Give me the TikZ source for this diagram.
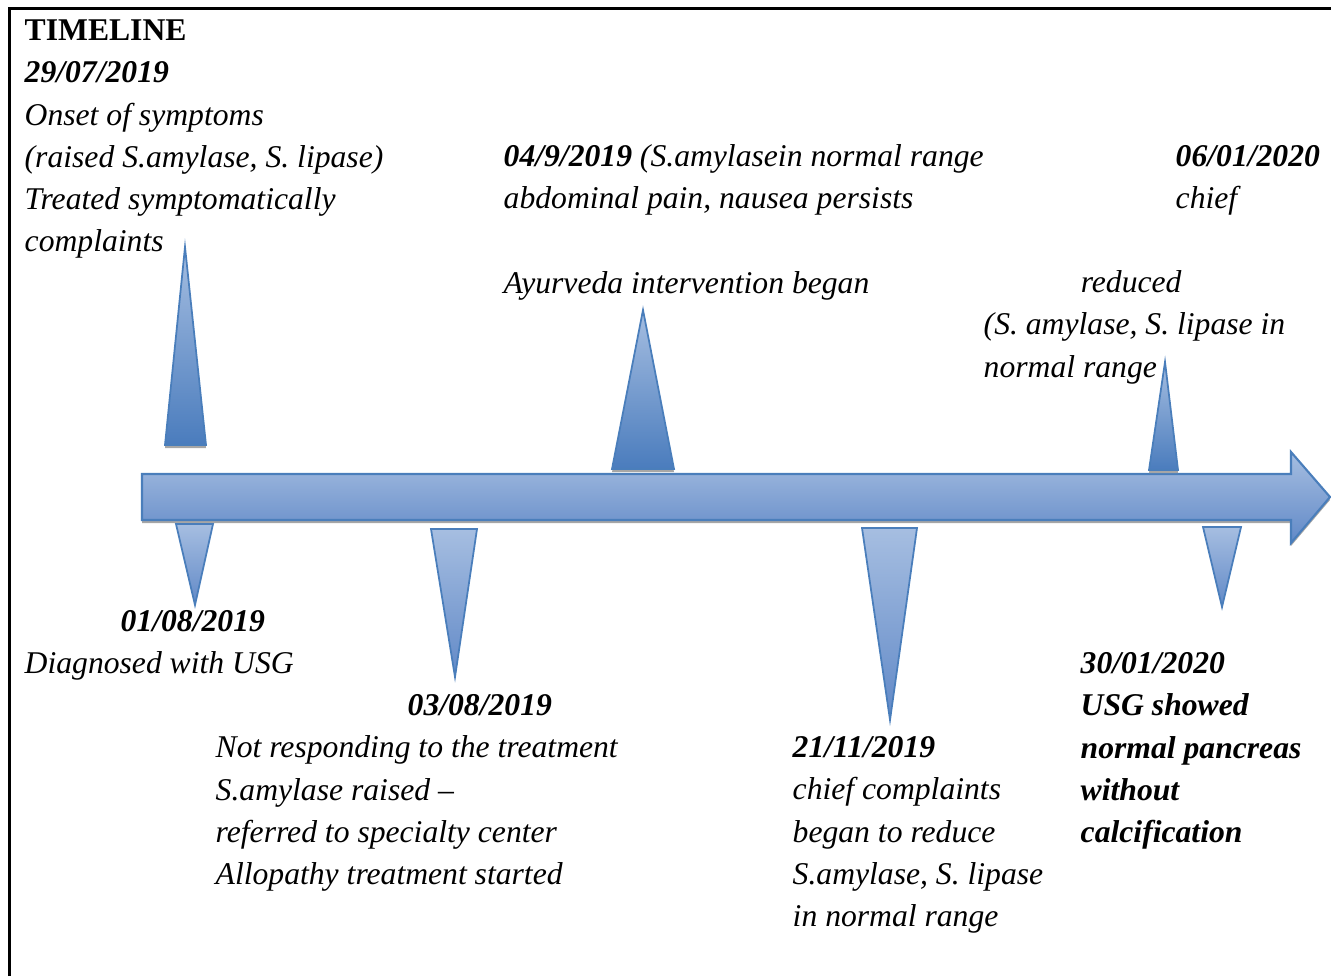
\documentclass[tikz,border=0pt]{standalone}
\usepackage{fontspec}
\setmainfont{Liberation Serif}
\usetikzlibrary{positioning}

\definecolor{barlight}{HTML}{A6BEE1}
\definecolor{bardark}{HTML}{6189C7}
\definecolor{baredge}{HTML}{4A7EBB}
\definecolor{tridark}{HTML}{4A7CBD}

\begin{document}
\begin{tikzpicture}[
            x=0.01cm, y=-0.01cm,
            every node/.style={inner sep=0pt, anchor=north west, align=left,
                               font=\fontsize{9}{12}\selectfont\itshape},
            bar/.style={draw=baredge, line width=0.6pt, top color=barlight, bottom color=bardark},
            uptri/.style={draw=baredge, line width=0.5pt, top color=barlight, bottom color=tridark},
            downtri/.style={draw=baredge, line width=0.5pt, top color=barlight, bottom color=bardark},
            shadow/.style={fill=black!35}
        ]
        \useasboundingbox (0,0) rectangle (1331,976);
        % frame
        \draw [line width=0.85pt] (9.5,976) -- (9.5,8.5) -- (1331,8.5);

        % Main arrow
        \fill [shadow, shift={(0,3)}] (142,474) -- (1291,474) -- (1291,452) -- (1330,497)
            -- (1291,543) -- (1291,520) -- (142,520) -- cycle;
        \draw [bar] (142,474) -- (1291,474) -- (1291,452) -- (1330,497)
            -- (1291,543) -- (1291,520) -- (142,520) -- cycle;

        % Upper markers
        \fill [shadow, shift={(0,3)}] (165,445) -- (185,247) -- (206,445) -- cycle;
        \draw [uptri] (165,445) -- (185,247) -- (206,445) -- cycle;
        \fill [shadow, shift={(0,3)}] (612,469) -- (643,310) -- (674,469) -- cycle;
        \draw [uptri] (612,469) -- (643,310) -- (674,469) -- cycle;
        \fill [shadow, shift={(0,3)}] (1149,470) -- (1165,362) -- (1178,470) -- cycle;
        \draw [uptri] (1149,470) -- (1165,362) -- (1178,470) -- cycle;

        % Lower markers
        \draw [downtri] (176,524) -- (213,524) -- (195,605) -- cycle;
        \draw [downtri] (431,529) -- (477,529) -- (455,677) -- cycle;
        \draw [downtri] (862,528) -- (917,528) -- (890,720) -- cycle;
        \draw [downtri] (1203,527) -- (1241,527) -- (1222,607) -- cycle;

        % Upper texts
        \node (onset) at (24,10.5) {\strut\textup{\textbf{TIMELINE}}\\ \textbf{29/07/2019}\\
            Onset of symptoms\\ (raised S.amylase, S. lipase)\\ Treated symptomatically\\ complaints};
        \node (ayurveda) at (503,136.5) {\strut\textbf{04/9/2019} (S.amylasein normal range\\
            abdominal pain, nausea persists\\[12pt] Ayurveda intervention began};
        \node (jan6) at (1175,136.5) {\strut\textbf{06/01/2020}\\ chief};
        \node (reduced) at (983,262.5) {\strut\hspace*{27.6pt}reduced\\
            (S. amylase, S. lipase in\\ normal range};

        % Lower texts
        \node (diagnosed) at (24,601.5) {\strut\hspace*{27.3pt}\textbf{01/08/2019}\\ Diagnosed with USG};
        \node (allopathy) at (215,685.5) {\strut\hspace*{54.6pt}\textbf{03/08/2019}\\
            Not responding to the treatment\\ S.amylase raised –\\
            referred to specialty center\\ Allopathy treatment started};
        \node (nov21) at (792,727.5) {\strut\textbf{21/11/2019}\\ chief complaints\\
            began to reduce\\ S.amylase, S. lipase\\ in normal range};
        \node (usg) at (1080,643.5) {\strut\textbf{30/01/2020}\\ \textbf{USG showed}\\
            \textbf{normal pancreas}\\ \textbf{without}\\ \textbf{calcification}};
\end{tikzpicture}
\end{document}
